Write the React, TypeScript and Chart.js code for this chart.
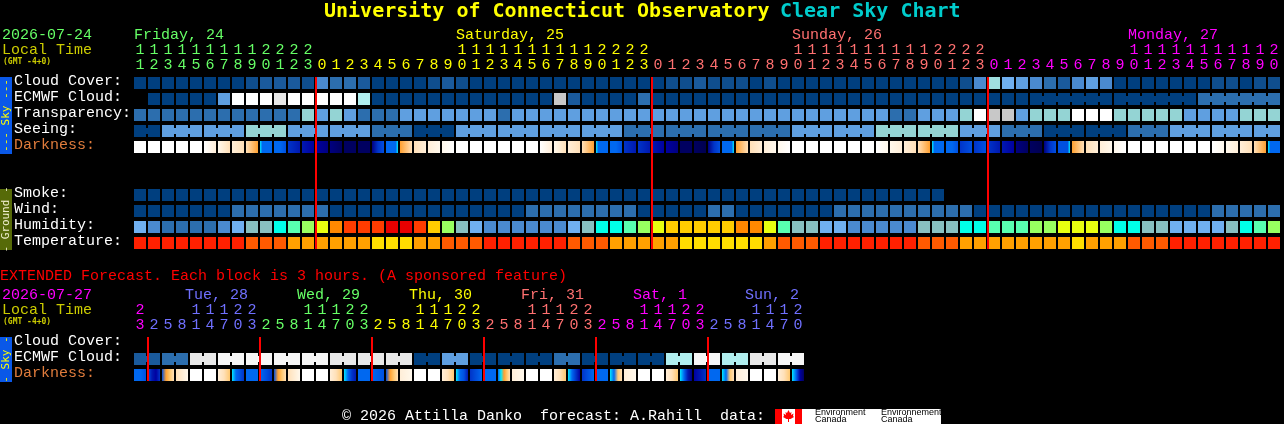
import React, { useEffect, useRef } from "react";
import { Chart, registerables } from "chart.js";

Chart.register(...registerables);

const MONO = '"Liberation Mono", monospace';
const MONO_BOLD = '"DejaVu Sans Mono", monospace';

// ---------- main forecast (1 block = 1 hour) ----------
const mainHours = [
  11,12,13,14,15,16,17,18,19,20,21,22,23,
  0,1,2,3,4,5,6,7,8,9,10,11,12,13,14,15,16,17,18,19,20,21,22,23,
  0,1,2,3,4,5,6,7,8,9,10,11,12,13,14,15,16,17,18,19,20,21,22,23,
  0,1,2,3,4,5,6,7,8,9,10,11,12,13,14,15,16,17,18,19,20,
];
const mainRowLabels = ["Cloud Cover:", "ECMWF Cloud:", "Transparency:", "Seeing:", "Darkness:", "", "", "Smoke:", "Wind:", "Humidity:", "Temperature:"];
const mainDayLabels = ["Friday, 24", "Saturday, 25", "Sunday, 26", "Monday, 27"];
const mainDayColumns = [0, 23, 47, 71];
const mainDayColors = ["#66ff66", "#ffff00", "#ff7070", "#ff00ff"];
const mainMidnights = [13, 37, 61];

const cloudCover = [
  0,0,0,0,0,0,0,0,5,10,10,10,5,30,20,20,10,0,0,0,0,5,10,5,
  0,0,0,0,0,0,0,0,0,0,0,0,0,0,5,5,10,5,5,5,0,5,
  0,0,0,0,0,0,0,0,0,0,0,0,0,5,30,60,50,40,30,20,10,30,40,30,
  0,0,0,0,0,0,0,5,5,0,5,5,
];
const ecmwfCloud = [
  null,0,0,0,0,0,40,100,100,100,90,100,100,100,100,100,70,
  0,0,0,0,0,0,0,0,0,0,0,0,0,80,10,0,0,0,0,20,
  0,0,0,0,0,0,0,0,0,0,0,0,0,0,0,0,0,0,0,0,0,0,0,0,0,0,0,0,0,0,0,0,0,0,0,0,0,0,0,
  20,20,20,20,20,20,
];
const transparency = [
  1,1,1,1,1,1,1,1,1,1,1,1,3,2,3,2,1,1,1,2,2,2,2,2,2,2,1,
  2,2,2,2,2,2,2,2,2,2,2,2,2,2,2,2,2,2,2,2,2,2,2,2,2,2,2,
  1,1,2,2,2,3,4,5,5,2,3,3,3,4,4,4,3,3,3,3,3,2,2,2,2,3,3,3,
];
const seeing = [
  0,0,2,2,2,2,2,2,3,3,3,2,2,2,2,2,2,1,1,1,0,0,0,2,2,2,2,2,2,2,2,2,2,2,2,
  1,1,1,1,1,1,1,1,1,1,1,1,2,2,2,2,2,2,3,3,3,3,3,3,2,2,2,1,1,1,
  0,0,0,0,0,0,1,1,1,2,2,2,2,2,2,2,2,
];
const smoke = [
  0,0,0,0,0,0,0,0,0,0,0,0,0,0,0,0,0,0,0,0,0,0,0,0,0,0,0,0,0,
  0,0,0,0,0,0,0,0,0,0,0,0,0,0,0,0,0,0,0,0,0,0,0,0,0,0,0,0,0,
];
const wind = [
  0,0,0,0,0,0,0,1,1,1,1,1,1,1,0,0,0,0,0,0,0,0,0,0,0,0,0,0,
  1,1,1,1,1,1,1,1,0,0,0,0,0,1,1,0,0,0,0,0,0,0,1,1,
  1,1,1,1,1,1,1,1,0,0,0,0,0,0,0,0,0,0,0,0,0,0,0,0,0,1,1,1,1,1,
];
const humidity = [
  55,50,45,45,45,45,50,55,60,60,65,70,75,80,90,95,95,95,100,100,95,85,75,60,55,
  50,50,50,50,50,50,55,60,65,65,70,75,80,85,85,85,85,85,90,90,80,70,60,60,55,55,50,
  50,50,50,50,60,60,60,65,65,70,70,70,75,75,80,80,80,75,65,65,60,60,55,55,55,55,60,65,70,75,
];
const temperature = [
  20,20,20,20,20,20,20,20,22,22,22,24,24,24,24,24,24,26,26,26,24,24,22,22,22,
  20,20,20,20,20,20,22,22,22,24,24,24,24,24,26,26,26,26,26,26,24,22,22,22,20,20,20,
  20,20,20,20,22,22,22,24,24,24,24,24,24,24,24,26,24,24,24,22,22,22,20,20,20,20,20,20,20,20,22,22,
];
const darkness = [
  "w","w","w","w","w","wc","pd","cd","do","yBBBBB","BBE","FG","GH","HI","IJ","JJ","JJ","IFE","BBBBBy","od","dc",
  "cp","pw","w","w","w","w","w","w","wc","pd","cd","do","yBBBBB","BBE","FG","FG","GH","HI","JJ","JK","IFE","BBBBBy","od","dc","cp","pw",
  "w","w","w","w","w","w","wp","pc","cd","do","yBBBBB","BBE","FE","FE","FG","GH","IJ","JK","IFE","EEEEEy","od","dc","cp","pw",
  "w","w","w","w","w","w","wp","pc","cd","do","yBBBBB",
];
const seeingBlocks = [[0,2],[2,3],[5,3],[8,3],[11,3],[14,3],[17,3],[20,3],[23,3],[26,3],[29,3],[32,3],[35,3],[38,3],[41,3],[44,3],[47,3],[50,3],[53,3],[56,3],[59,3],[62,3],[65,3],[68,3],[71,3],[74,3],[77,3],[80,2]];
const ecmwfBlocks = [[64,6],[70,6],[76,6]];

// ---------- extended forecast (1 block = 3 hours) ----------
const extHours = [
  23,2,5,8,11,14,17,20,23,2,5,8,11,14,17,20,23,2,5,8,11,14,17,20,23,
  2,5,8,11,14,17,20,23,2,5,8,11,14,17,20,23,2,5,8,11,14,17,20,
];
const extRowLabels = ["Cloud Cover:", "ECMWF Cloud:", "Darkness:"];
const extDayLabels = ["Tue, 28", "Wed, 29", "Thu, 30", "Fri, 31", "Sat, 1", "Sun, 2"];
const extDayColumns = [4, 12, 20, 28, 36, 44];
const extDayColors = ["#7070ff", "#66ff66", "#ffff00", "#ff7070", "#ff00ff", "#7070ff"];
const extMidnights = [1, 9, 17, 25, 33, 41];
const extCloud = [
  10,10,20,20,90,90,95,95,95,95,95,95,95,95,90,90,90,90,90,90,0,0,40,40,
  0,0,0,0,0,0,20,20,0,0,0,0,0,0,70,70,95,95,70,70,90,90,95,95,
];
const extDarkness = [
  "BBE","EGHF","Eotd","dp","w","w","cdt","yBEF","BB","BEF","Eotd","dp","w","w","cdt","yBFG",
  "BB","BE","Eotd","cp","w","w","cdt","yBEG","FB","BB","Byotd","cp","w","w","cdt","yBFH",
  "FEB","BB","yBtd","cp","w","w","cdt","yBGI","HGF","BB","yBtd","cp","w","w","cdt","yBHJ",
];
const extBlocks = [[0,2],[2,2],[4,2],[6,2],[8,2],[10,2],[12,2],[14,2],[16,2],[18,2],[20,2],[22,2],[24,2],[26,2],[28,2],[30,2],[32,2],[34,2],[36,2],[38,2],[40,2],[42,2],[44,2],[46,2]];

// ---------- palettes ----------
const cloudColors: Record<number, string> = {
  0: "#003f7f", 5: "#0f4e8e", 10: "#1a5a9c", 20: "#2c6eae", 30: "#4a8ad0", 40: "#5f9fe0", 50: "#70b0f0",
  60: "#a0e0e0", 70: "#b0eeee", 80: "#c8c8c8", 90: "#e8e8e8", 95: "#f6f6f6", 100: "#ffffff",
};
const ratingColors = ["#003f7f", "#2c6eae", "#5f9fe0", "#94d4d4", "#ffffff", "#c8c8c8"];
const humidityColors: Record<number, string> = {
  45: "#2c6eae", 50: "#4a8ad0", 55: "#70b0f0", 60: "#88c0c0", 65: "#00ffe8", 70: "#58ffb0", 75: "#98ff60",
  80: "#e8ff10", 85: "#ffcc00", 90: "#ff8800", 95: "#ff3c00", 100: "#e80000",
};
const temperatureColors: Record<number, string> = { 20: "#ff2000", 22: "#ff5a00", 24: "#ffa000", 26: "#ffdd00" };
const darknessColors: Record<string, string> = {
  w: "#ffffff", p: "#fff8ec", c: "#ffeed8", d: "#ffe0b8", t: "#ffc870", o: "#ffa030", y: "#00e8ff",
  B: "#0068f0", E: "#0050e0", F: "#0034c8", G: "#0018b0", H: "#0000a0", I: "#000080", J: "#000060", K: "#000050",
};

const CELL = 0.375;
const NECK = 0.1875;
const LEFT_EDGE = 6 / 14;

type Num = number | null;

function cells(values: Num[], row: number, color: (v: number) => string) {
  const kept = values.map((v, i) => ({ v, i })).filter((d) => d.v !== null);
  return {
    data: kept.map((d) => ({ x: d.i, y: [row - CELL, row + CELL] })),
    backgroundColor: kept.map((d) => color(d.v as number)),
    maxBarThickness: 12,
  };
}
function necks(values: number[], row: number, blocks: number[][], color: (v: number) => string) {
  const pts: { x: number; y: number[] }[] = [];
  const cols: string[] = [];
  blocks.forEach(([start, len]) => {
    for (let i = start; i < start + len - 1; i++) {
      pts.push({ x: i + 0.5, y: [row - NECK, row + NECK] });
      cols.push(color(values[i]));
    }
  });
  return { data: pts, backgroundColor: cols, maxBarThickness: 2 };
}
function gradientCells(values: string[], row: number) {
  return {
    data: values.map((_, i) => ({ x: i, y: [row - CELL, row + CELL] })),
    backgroundColor: (ctx: any) => {
      const chart = ctx.chart;
      const scale = chart.scales.x;
      const stops = values[ctx.dataIndex];
      if (!scale || !stops) return "#000";
      if (stops.length === 1) return darknessColors[stops];
      const px = scale.getPixelForValue(ctx.dataIndex);
      if (!Number.isFinite(px)) return darknessColors[stops[0]];
      const g = chart.ctx.createLinearGradient(px - 6, 0, px + 6, 0);
      for (let k = 0; k < stops.length; k++) g.addColorStop(k / (stops.length - 1), darknessColors[stops[k]]);
      return g;
    },
    maxBarThickness: 12,
  };
}
// Chart.js paints the first dataset last, so these go first in the list to sit on top.
function redLines(cols: number[], top: number, bottom: number) {
  return {
    data: cols.map((c) => ({ x: c - LEFT_EDGE, y: [top, bottom] })),
    backgroundColor: "#ff0000",
    maxBarThickness: 2,
  };
}

function text(c: CanvasRenderingContext2D, s: string, x: number, y: number, color: string, font: string, align: CanvasTextAlign = "left") {
  c.fillStyle = color;
  c.font = font;
  c.textAlign = align;
  c.textBaseline = "middle";
  c.fillText(s, x, y);
}
function strip(c: CanvasRenderingContext2D, top: number, bottom: number, fill: string, label: string, color: string) {
  c.fillStyle = fill;
  c.fillRect(0, top, 12, bottom - top);
  c.save();
  c.translate(6, (top + bottom) / 2);
  c.rotate(-Math.PI / 2);
  text(c, label, 0, 0, color, `11px ${MONO_BOLD}`, "center");
  c.restore();
}
const F15 = `15px ${MONO}`;
const F8 = `bold 8px ${MONO_BOLD}`;

function config(opts: {
  hours: number[]; rowLabels: string[]; colors: (i: number) => string; rowCount: number; datasets: any[];
  right: number; bottom: number; axisHeight: number; plugin: any;
}) {
  const { hours, rowLabels, colors, rowCount, datasets, right, bottom, axisHeight, plugin } = opts;
  return {
    type: "bar" as const,
    data: { datasets },
    plugins: [plugin],
    options: {
      animation: false as const,
      responsive: false,
      devicePixelRatio: 1,
      events: [],
      layout: { padding: { left: 14, right, top: 0, bottom } },
      datasets: { bar: { grouped: false, barPercentage: 100, categoryPercentage: 1, borderWidth: 0, inflateAmount: 0 } },
      plugins: { legend: { display: false }, title: { display: false }, tooltip: { enabled: false } },
      scales: {
        x: {
          type: "linear" as const,
          position: "top" as const,
          offset: false,
          min: -0.5,
          max: hours.length - 0.5,
          grid: { display: false, drawTicks: false, offset: false },
          border: { display: false },
          afterFit: (s: any) => { s.height = axisHeight; },
          afterBuildTicks: (s: any) => { s.ticks = hours.map((_, i) => ({ value: i })); },
          ticks: {
            autoSkip: false, maxRotation: 0, minRotation: 0, padding: 2.5,
            font: { family: MONO, size: 15, lineHeight: "15px" },
            color: (ctx: any) => colors(ctx.index),
            callback: (_: any, i: number) => {
              const h = hours[i];
              return h >= 10 ? [String(Math.floor(h / 10)), String(h % 10)] : ["", String(h)];
            },
          },
        },
        y: {
          type: "linear" as const,
          reverse: true,
          offset: false,
          min: -0.5,
          max: rowCount - 0.5,
          grid: { display: false, drawTicks: false },
          border: { display: false },
          afterFit: (s: any) => { s.width = 119; },
          afterBuildTicks: (s: any) => { s.ticks = rowLabels.map((_, i) => ({ value: i })); },
          ticks: {
            autoSkip: false, crossAlign: "far" as const, padding: 0, labelOffset: -2,
            font: { family: MONO, size: 15 },
            color: (ctx: any) => (rowLabels[ctx.tick.value] === "Darkness:" ? "#e07c3c" : "#ffffff"),
            callback: (v: any) => rowLabels[v] ?? "",
          },
        },
      },
    },
  };
}

function mainColor(i: number) {
  if (i < mainMidnights[0]) return mainDayColors[0];
  if (i < mainMidnights[1]) return mainDayColors[1];
  if (i < mainMidnights[2]) return mainDayColors[2];
  return mainDayColors[3];
}
function extColor(i: number) {
  if (i < 1) return "#ff00ff";
  return extDayColors[Math.floor((i - 1) / 8)];
}

const mainPlugin = {
  id: "mainText",
  afterDraw(chart: any) {
    const c: CanvasRenderingContext2D = chart.ctx;
    c.save();
    const big = `bold 20px ${MONO_BOLD}`;
    text(c, "University of Connecticut Observatory", 324, 11.5, "#ffff00", big);
    text(c, "Clear Sky Chart", 780, 11.5, "#00cccc", big);
    text(c, "2026-07-24", 2, 35, "#66ff66", F15);
    text(c, "Local Time", 2, 50, "#cccc00", F15);
    text(c, "(GMT -4+0)", 3, 62, "#cccc00", F8);
    mainDayLabels.forEach((s, k) => {
      text(c, s, chart.scales.x.getPixelForValue(mainDayColumns[k]) - 6, 35, mainDayColors[k], F15);
    });
    strip(c, 77, 154, "#0a58e8", "--- Sky ---", "#ffff00");
    strip(c, 189, 250, "#566a08", "- Ground -", "#f0f0d0");
    c.restore();
  },
};
const extPlugin = {
  id: "extText",
  afterDraw(chart: any) {
    const c: CanvasRenderingContext2D = chart.ctx;
    c.save();
    text(c, "EXTENDED Forecast. Each block is 3 hours. (A sponsored feature)", 0, 11, "#ff0000", F15);
    text(c, "2026-07-27", 2, 30, "#ff00ff", F15);
    text(c, "Local Time", 2, 45, "#cccc00", F15);
    text(c, "(GMT -4+0)", 3, 57, "#cccc00", F8);
    extDayLabels.forEach((s, k) => {
      text(c, s, chart.scales.x.getPixelForValue(extDayColumns[k]) - 11, 30, extDayColors[k], F15);
    });
    strip(c, 72, 117, "#0a58e8", "- Sky -", "#ffff00");
    text(c, "\u00a9 2026 Attilla Danko  forecast: A.Rahill  data:", 342, 151, "#ffffff", F15);
    // Environment Canada badge
    c.fillStyle = "#ffffff";
    c.fillRect(775, 144, 166, 15);
    c.fillStyle = "#ff0000";
    c.fillRect(775, 144, 7, 15);
    c.fillRect(795, 144, 7, 15);
    const lx = 788.5, ly = 151;
    const leaf = [[0,-6],[1.5,-3],[3,-4],[2.5,-1],[5,-2.5],[4.5,0],[5.5,1],[2,3],[0.5,3],[0.5,6],[-0.5,6],[-0.5,3],[-2,3],[-5.5,1],[-4.5,0],[-5,-2.5],[-2.5,-1],[-3,-4],[-1.5,-3]];
    c.beginPath();
    leaf.forEach(([a, b], k) => (k ? c.lineTo(lx + a, ly + b) : c.moveTo(lx + a, ly + b)));
    c.closePath();
    c.fill();
    const small = `9px "Liberation Sans"`;
    text(c, "Environment", 815, 147.5, "#000000", small);
    text(c, "Canada", 815, 155, "#000000", small);
    text(c, "Environnement", 881, 147.5, "#000000", small);
    text(c, "Canada", 881, 155, "#000000", small);
    c.restore();
  },
};

export default function App() {
  const mainRef = useRef<HTMLCanvasElement>(null);
  const extRef = useRef<HTMLCanvasElement>(null);
  useEffect(() => {
    document.body.style.background = "#000";
    const cloud = (v: number) => cloudColors[v];
    const rating = (v: number) => ratingColors[v];
    const main = new Chart(mainRef.current as any, config({
      hours: mainHours, rowLabels: mainRowLabels, colors: mainColor, rowCount: 11,
      right: 3, bottom: 14, axisHeight: 75, plugin: mainPlugin,
      datasets: [
        redLines(mainMidnights, -CELL, 10 + CELL),
        cells(cloudCover, 0, cloud),
        cells(ecmwfCloud, 1, cloud),
        necks(ecmwfCloud as number[], 1, ecmwfBlocks, cloud),
        cells(transparency, 2, rating),
        cells(seeing, 3, rating),
        necks(seeing, 3, seeingBlocks, rating),
        gradientCells(darkness, 4),
        cells(smoke, 7, rating),
        cells(wind, 8, rating),
        cells(humidity, 9, (v) => humidityColors[v]),
        cells(temperature, 10, (v) => temperatureColors[v]),
      ],
    }) as any);
    const ext = new Chart(extRef.current as any, config({
      hours: extHours, rowLabels: extRowLabels, colors: extColor, rowCount: 3,
      right: 479, bottom: 41, axisHeight: 70, plugin: extPlugin,
      datasets: [
        redLines(extMidnights, -CELL, 2 + CELL),
        cells(extCloud, 1, cloud),
        necks(extCloud, 1, extBlocks, cloud),
        gradientCells(extDarkness, 2),
      ],
    }) as any);
    return () => { main.destroy(); ext.destroy(); };
  }, []);
  return (
    <div style={{ position: "fixed", left: 0, top: 0, width: 1284, height: 424, background: "#000" }}>
      <canvas ref={mainRef} width={1284} height={265} style={{ display: "block" }} />
      <canvas ref={extRef} width={1284} height={159} style={{ display: "block" }} />
    </div>
  );
}
